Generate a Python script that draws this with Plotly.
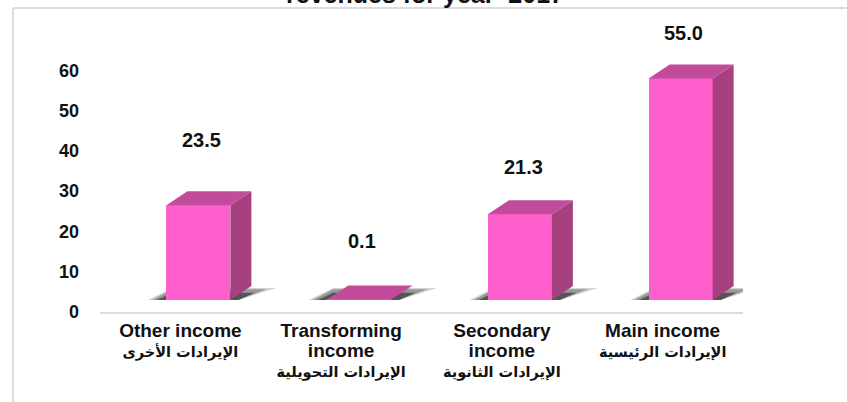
import plotly.graph_objects as go

# ---- data ----
categories_en = ["Other income", "Transforming<br>income", "Secondary<br>income", "Main income"]
categories_ar = ["الإيرادات الأخرى", "الإيرادات التحويلية", "الإيرادات الثانوية", "الإيرادات الرئيسية"]
values = [23.5, 0.1, 21.3, 55.0]
value_labels = ["23.5", "0.1", "21.3", "55.0"]
y_ticks = [0, 10, 20, 30, 40, 50, 60]
title_text = "revenues for year  2017"

# ---- style / geometry ----
W, H = 847, 402
L, R, T, B = 100, 104, 30, 90
plot_w = W - L - R
plot_h = H - T - B
x_range = [-0.5, 3.5]
y_range = [0, 70]
px_per_x = plot_w / (x_range[1] - x_range[0])
px_per_y = plot_h / (y_range[1] - y_range[0])

front_col = "#FF5FCD"
side_col = "#A6407F"
top_col = "#C24B9C"
bar_w = 64 / px_per_x          # front face width
bar_shift = 18 / px_per_x      # front face offset from category centre
floor = 12 / px_per_y          # front face raised above the axis zero
depth_x = 21 / px_per_x
depth_y = 14 / px_per_y
label_gap = [65, 59, 47, 45]   # px above front top

fig = go.Figure()

shapes = []
xs = [i + bar_shift for i in range(len(values))]
for xc, v in zip(xs, values):
    xl, xr = xc - bar_w / 2, xc + bar_w / 2
    top = floor + v
    # shadow on the floor (layered for a soft gradient)
    for grow, op in [(1.15, 0.2), (0.9, 0.32), (0.6, 0.55)]:
        sl = 16 * grow / px_per_x
        sr = 40 * grow / px_per_x
        sh = 12 * min(grow, 1.0) / px_per_y
        path = (f"M {xl - sl} {floor} L {xr + 8/px_per_x} {floor} "
                f"L {xr + sr} {floor + sh} L {xl + 6/px_per_x} {floor + sh} Z")
        shapes.append(dict(type="path", path=path, xref="x", yref="y",
                           fillcolor=f"rgba(30,30,30,{op})", line=dict(width=0),
                           layer="below"))
    # side face
    path = (f"M {xr} {floor} L {xr + depth_x} {floor + depth_y} "
            f"L {xr + depth_x} {top + depth_y} L {xr} {top} Z")
    shapes.append(dict(type="path", path=path, xref="x", yref="y",
                       fillcolor=side_col, line=dict(width=0), layer="above"))
    # top face
    path = (f"M {xl} {top} L {xr} {top} L {xr + depth_x} {top + depth_y} "
            f"L {xl + depth_x} {top + depth_y} Z")
    shapes.append(dict(type="path", path=path, xref="x", yref="y",
                       fillcolor=top_col, line=dict(width=0), layer="above"))

fig.add_trace(go.Bar(
    x=xs, y=values, base=[floor] * len(values), width=bar_w,
    marker=dict(color=front_col, line=dict(width=0)),
    hoverinfo="skip", showlegend=False,
))

annotations = []
for xc, v, lab, gap in zip(xs, values, value_labels, label_gap):
    annotations.append(dict(x=xc + 0.02, y=floor + v, text=f"<b>{lab}</b>",
                            showarrow=False, yshift=gap, yanchor="middle",
                            font=dict(family="Liberation Sans", size=20, color="#111111")))

# title (mostly cut off at the top, as in the original)
annotations.append(dict(x=(425 - L) / plot_w, y=(H - B - 10) / plot_h, xref="paper", yref="paper",
                        text=f"<b>{title_text}</b>", showarrow=False, yanchor="bottom",
                        font=dict(family="Liberation Sans", size=25, color="#111111")))

# frame lines of the original image
fx = (13 - L) / plot_w
fy = (H - B - 8) / plot_h
shapes.append(dict(type="line", xref="paper", yref="paper", x0=fx, x1=(W - L) / plot_w, y0=fy, y1=fy,
                   line=dict(color="#d0d0d0", width=1.5)))
shapes.append(dict(type="line", xref="paper", yref="paper", x0=fx, x1=fx, y0=fy, y1=-(B) / plot_h,
                   line=dict(color="#d0d0d0", width=1.5)))

ticktext = [f"<span style='font-size:19px'><b>{en}</b></span><br>"
            f"<span style='font-size:14.5px;font-family:DejaVu Sans'><b>{ar}</b></span>"
            for en, ar in zip(categories_en, categories_ar)]

fig.update_layout(
    width=W, height=H,
    margin=dict(l=L, r=R, t=T, b=B),
    plot_bgcolor="white", paper_bgcolor="white",
    shapes=shapes, annotations=annotations,
    xaxis=dict(range=x_range, tickvals=list(range(len(values))), ticktext=ticktext,
               showgrid=False, zeroline=False, showline=True, linecolor="#dcdcdc", linewidth=2,
               ticks="", ticklabelstandoff=4,
               tickfont=dict(family="Liberation Sans", size=15.5, color="#111111")),
    yaxis=dict(range=y_range, tickvals=y_ticks, ticktext=[f"<b>{t}</b>" for t in y_ticks],
               showgrid=False, zeroline=False, showline=False, ticks="",
               ticklabelstandoff=20,
               tickfont=dict(family="Liberation Sans", size=18, color="#111111")),
    bargap=0,
)

fig.write_html("out.html", config={"displayModeBar": False},
               post_script="document.body.style.margin='0px';")
